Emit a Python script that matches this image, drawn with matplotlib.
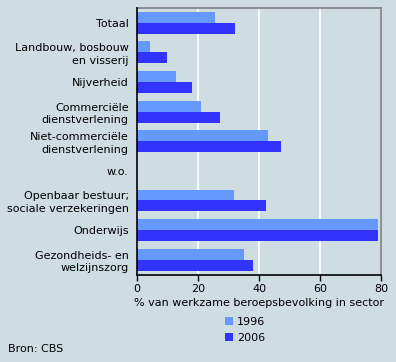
import matplotlib
matplotlib.use("Agg")
import matplotlib.pyplot as plt
import numpy as np

categories = ["Totaal", "Landbouw, bosbouw\nen visserij", "Nijverheid",
              "Commerciële\ndienstverlening", "Niet-commerciële\ndienstverlening",
              "w.o.", "Openbaar bestuur;\nsociale verzekeringen", "Onderwijs",
              "Gezondheids- en\nwelzijnszorg"]
v1996 = [25.5, 4.1, 12.7, 20.9, 42.8, np.nan, 31.7, 78.9, 35.0]
v2006 = [32.0, 9.7, 17.9, 27.1, 47.1, np.nan, 42.2, 78.9, 37.9]
xticks = [0, 20, 40, 60, 80]

bg = "#cddde2"
c1996 = "#6699ff"
c2006 = "#3333ff"
fs = 8.0

fig = plt.figure(figsize=(3.96, 3.62), dpi=100, facecolor=bg)
ax = fig.add_axes([137/396, 1-274.5/362, (381.3-137)/396, (274.5-8)/362])
ax.set_facecolor(bg)

y = np.arange(len(categories))
h = 0.37
ax.barh(y - h/2, v1996, height=h, color=c1996, label="1996", zorder=3)
ax.barh(y + h/2, v2006, height=h, color=c2006, label="2006", zorder=3)

ax.set_ylim(len(categories) - 0.5, -0.5)
ax.set_xlim(0, 80)
ax.set_xticks(xticks)
ax.set_yticks(y)
ax.set_yticklabels(categories, fontsize=fs, ha="right", linespacing=1.35)
ax.tick_params(axis="y", length=0, pad=6)
ax.tick_params(axis="x", length=4, width=1, labelsize=fs, pad=3, color="black")
ax.xaxis.grid(True, color="white", linewidth=1.2, zorder=0)
ax.set_axisbelow(True)
for s in ["top", "right"]:
    ax.spines[s].set_color("#808080")
    ax.spines[s].set_linewidth(1.2)
for s in ["left", "bottom"]:
    ax.spines[s].set_color("black")
    ax.spines[s].set_linewidth(1.2)
    ax.spines[s].set_zorder(4)

ax.set_xlabel("% van werkzame beroepsbevolking in sector", fontsize=fs, labelpad=3)

leg = fig.legend(loc="upper left", bbox_to_anchor=(225/396, 1-317/362), frameon=False,
                 fontsize=fs, handlelength=0.7, handleheight=0.7, handletextpad=0.4,
                 labelspacing=0.5, borderaxespad=0, borderpad=0)

fig.text(8/396, 1-349/362, "Bron: CBS", fontsize=fs, va="center", ha="left")

fig.savefig("out.png", dpi=100, facecolor=bg)
